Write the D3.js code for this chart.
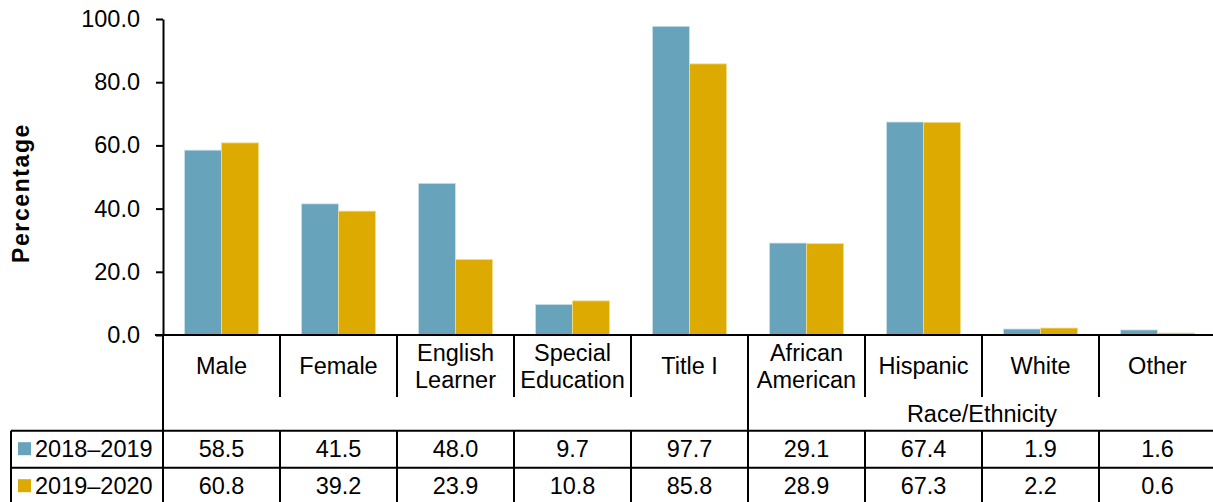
<!DOCTYPE html>
<html>
<head>
<meta charset="utf-8">
<script src="https://cdn.jsdelivr.net/npm/d3@7"></script>
<style>
  html, body { margin: 0; padding: 0; background: #fff; }
  svg { display: block; font-family: "Liberation Sans", Arial, sans-serif; }
</style>
</head>
<body>
<svg id="chart" width="1213" height="502"></svg>
<script>
// ---- Data ----
const categories = ["Male", "Female", "English Learner", "Special Education", "Title I",
                    "African American", "Hispanic", "White", "Other"];
const categoryLines = [["Male"], ["Female"], ["English", "Learner"], ["Special", "Education"], ["Title I"],
                       ["African", "American"], ["Hispanic"], ["White"], ["Other"]];
const seriesNames = ["2018–2019", "2019–2020"];
const values2018 = [58.5, 41.5, 48.0, 9.7, 97.7, 29.1, 67.4, 1.9, 1.6];
const values2019 = [60.8, 39.2, 23.9, 10.8, 85.8, 28.9, 67.3, 2.2, 0.6];
const yTicks = [0, 20, 40, 60, 80, 100];
const groupLabels = [{ label: "", from: 0, to: 4 }, { label: "Race/Ethnicity", from: 5, to: 8 }];
const yTitle = "Percentage";

// ---- Layout ----
const colors = ["#67a3ba", "#dcaa00"];
const svg = d3.select("#chart");
const W = 1213, H = 502;
const plotLeft = 163, plotRight = 1216, plotTop = 19, plotBase = 335;
const row1Bottom = 397, row2Bottom = 430.7, row3Bottom = 467.7, row4Bottom = 504.7;
const legendLeft = 11;
const fs = 23.5;

const x = d3.scaleBand().domain(categories).range([plotLeft, plotRight]).paddingInner(0).paddingOuter(0);
const x1 = d3.scaleBand().domain(seriesNames).range([0, x.bandwidth()]).paddingInner(0).paddingOuter(0.58);
const y = d3.scaleLinear().domain([0, 100]).range([plotBase, plotTop]);

const seriesValues = [values2018, values2019];
const rows = categories.map((c, i) => ({ cat: c, vals: seriesNames.map((s, j) => ({ s, v: seriesValues[j][i], j })) }));

// Bars
const g = svg.append("g");
g.selectAll("g.cat").data(rows).join("g")
  .attr("transform", d => `translate(${x(d.cat)},0)`)
  .selectAll("rect").data(d => d.vals).join("rect")
  .attr("x", d => x1(d.s))
  .attr("width", x1.bandwidth())
  .attr("y", d => y(d.v))
  .attr("height", d => plotBase - y(d.v))
  .attr("fill", d => colors[d.j])
  .attr("stroke", d => d.j === 0 ? "#cfe2ea" : "#f2dc8a")
  .attr("stroke-width", 0.8);

// Y axis
const yAxis = d3.axisLeft(y).tickValues(yTicks).tickFormat(d3.format(".1f"))
  .tickSize(7).tickSizeOuter(0).tickPadding(16);
const ya = svg.append("g").attr("transform", `translate(${plotLeft},0)`).call(yAxis);
ya.selectAll("text").attr("font-size", fs).attr("fill", "#000").attr("font-family", "Liberation Sans, Arial, sans-serif");
ya.selectAll("line").attr("stroke", "#000").attr("stroke-width", 2);
ya.select(".domain").attr("stroke", "#000").attr("stroke-width", 2);

// Y title
svg.append("text")
  .attr("transform", `translate(29,${(plotTop + plotBase) / 2 + 16}) rotate(-90)`)
  .attr("text-anchor", "middle")
  .attr("font-size", 23)
  .attr("font-weight", "bold")
  .attr("letter-spacing", 1.6)
  .text(yTitle);

// Table lines
const lines = svg.append("g").attr("stroke", "#000").attr("stroke-width", 2);
lines.append("line").attr("x1", 155).attr("x2", W).attr("y1", plotBase).attr("y2", plotBase);
lines.append("line").attr("x1", plotLeft).attr("x2", plotLeft).attr("y1", plotBase).attr("y2", H + 5);
categories.forEach((c, i) => {
  if (i === 0) return;
  const isGroup = groupLabels.some(gr => gr.from === i);
  lines.append("line").attr("x1", x(c)).attr("x2", x(c))
    .attr("y1", plotBase).attr("y2", isGroup ? row2Bottom : row1Bottom);
  lines.append("line").attr("x1", x(c)).attr("x2", x(c))
    .attr("y1", row2Bottom).attr("y2", H + 5);
});
[row2Bottom, row3Bottom, row4Bottom].forEach(yy => {
  lines.append("line").attr("x1", legendLeft).attr("x2", W).attr("y1", yy).attr("y2", yy);
});
lines.append("line").attr("x1", legendLeft).attr("x2", legendLeft).attr("y1", row2Bottom).attr("y2", H + 5);

// Category labels
const lh = 27;
const labG = svg.append("g").attr("font-size", fs).attr("text-anchor", "middle");
categories.forEach((c, i) => {
  const ls = categoryLines[i];
  const cx = x(c) + x.bandwidth() / 2;
  const cy = (plotBase + row1Bottom) / 2 + 8;
  const t = labG.append("text").attr("x", cx);
  ls.forEach((l, k) => {
    t.append("tspan").attr("x", cx).attr("y", cy - (ls.length - 1) * lh / 2 + k * lh).text(l);
  });
});

// Group labels
groupLabels.forEach(gr => {
  if (!gr.label) return;
  const x0 = x(categories[gr.from]);
  const x2 = x(categories[gr.to]) + x.bandwidth();
  labG.append("text").attr("x", (x0 + x2) / 2).attr("y", (row1Bottom + row2Bottom) / 2 + 8).text(gr.label);
});

// Data rows
const rowTops = [row2Bottom, row3Bottom];
const rowBots = [row3Bottom, row4Bottom];
seriesNames.forEach((s, j) => {
  const cy = (rowTops[j] + rowBots[j]) / 2;
  svg.append("rect").attr("x", 18).attr("y", cy - 7).attr("width", 13).attr("height", 13).attr("fill", colors[j]);
  svg.append("text").attr("x", 35).attr("y", cy).attr("dy", "0.35em").attr("font-size", fs).text(s);
  seriesValues[j].forEach((v, i) => {
    svg.append("text")
      .attr("x", x(categories[i]) + x.bandwidth() / 2)
      .attr("y", cy).attr("dy", "0.35em")
      .attr("text-anchor", "middle").attr("font-size", fs)
      .text(d3.format(".1f")(v));
  });
});
</script>
</body>
</html>
